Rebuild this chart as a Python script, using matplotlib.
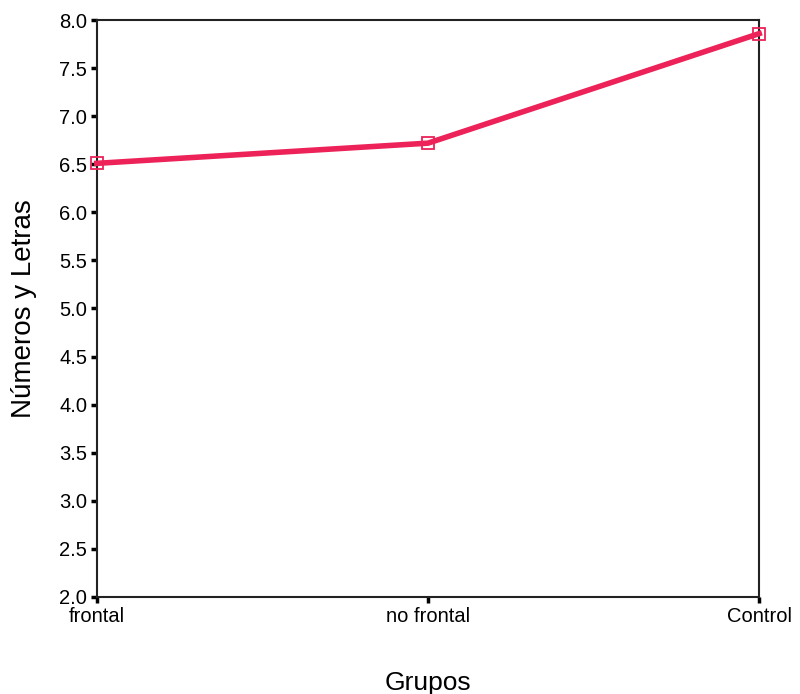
import matplotlib
matplotlib.use("Agg")
import matplotlib.pyplot as plt
import numpy as np

# Values
groups = ["frontal", "no frontal", "Control"]
means = [6.51, 6.72, 7.86]
y_ticks = np.arange(2.0, 8.01, 0.5)

LINE_COLOR = "#ec2258"

plt.rcParams["font.family"] = ["Liberation Sans", "DejaVu Sans"]

fig = plt.figure(figsize=(8.0, 6.94), dpi=100)
ax = fig.add_axes([0.121, 0.140, 0.828, 0.831])

x = np.arange(len(groups))
ax.plot(x, means, color=LINE_COLOR, linewidth=4, marker="s", markersize=9,
        markerfacecolor="none", markeredgecolor=LINE_COLOR, markeredgewidth=1.3,
        clip_on=False, zorder=3)

ax.set_xlim(0, len(groups) - 1)
ax.set_ylim(2.0, 8.0)
ax.set_yticks(y_ticks)
ax.set_yticklabels([f"{v:.1f}" for v in y_ticks])
ax.set_xticks(x)
ax.set_xticklabels(groups)

ax.tick_params(axis="both", direction="out", length=4, width=2.5,
               labelsize=14.5, colors="black", pad=3)
for side in ["top", "right", "left", "bottom"]:
    ax.spines[side].set_linewidth(1.5)
    ax.spines[side].set_color("#222222")

ax.set_ylabel("Números y Letras", fontsize=20, labelpad=16)
ax.set_xlabel("Grupos", fontsize=19, labelpad=33)

fig.savefig("out.png", dpi=100)
